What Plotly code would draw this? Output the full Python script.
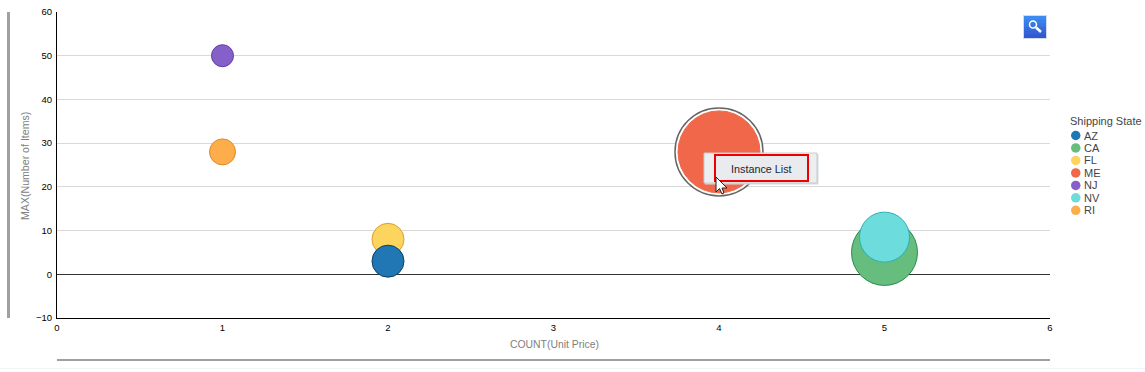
import plotly.graph_objects as go

states = ["RI", "NJ", "ME", "CA", "FL", "AZ", "NV"]
count_unit_price = [1, 1, 4, 5, 2, 2, 5]
max_items = [28, 50, 28, 5, 8, 3, 8.5]
bubble_size = [26, 22, 86, 66, 32, 32, 50]
fill_colors = ["#fdae4b", "#8660c9", "#f0674a", "#66bd7e", "#fcd45e", "#2077b3", "#6cdcdc"]
line_colors = ["#d98a2a", "#5e3ea1", "#ffffff", "#2a8c4e", "#d9a030", "#0d3f66", "#2ab0b0"]
legend_states = ["AZ", "CA", "FL", "ME", "NJ", "NV", "RI"]
legend_colors = ["#2077b3", "#66bd7e", "#fcd45e", "#f0674a", "#8660c9", "#6cdcdc", "#fdae4b"]
x_ticks = [0, 1, 2, 3, 4, 5, 6]
y_ticks = [-10, 0, 10, 20, 30, 40, 50, 60]

W, H = 1145, 372
L, R, T, B = 57, 95, 12, 54
PW, PH = W - L - R, H - T - B
def px(x): return (x - L) / PW
def py(y): return 1 - (y - T) / PH

fig = go.Figure()
# halo of the highlighted bubble
fig.add_trace(go.Scatter(x=[count_unit_price[2]], y=[max_items[2]], mode="markers", showlegend=False, hoverinfo="skip",
    marker=dict(size=[bubble_size[2] + 2], color="#ffffff", opacity=1, line=dict(color="#666666", width=1.5))))
for s, x, y, z, f, l in zip(states, count_unit_price, max_items, bubble_size, fill_colors, line_colors):
    fig.add_trace(go.Scatter(x=[x], y=[y], mode="markers", name=s, showlegend=False,
        marker=dict(size=[z - (4 if s == "ME" else 0)], color=f, opacity=1,
                    line=dict(color=f if s == "ME" else l, width=1))))

shapes = []
def rect(x0, y0, x1, y1, fill, line=None, lw=0):
    shapes.append(dict(type="rect", xref="paper", yref="paper", x0=px(x0), x1=px(x1), y0=py(y0), y1=py(y1),
                       fillcolor=fill, line=dict(color=line or fill, width=lw), layer="above"))
# frame bars
rect(7, 12, 10, 318, "#a0a0a0")
rect(57, 359, 1050, 361, "#a0a0a0")
rect(0, 368, 1145, 369, "#eef3f7")
# zoom button
rect(1023, 15, 1047, 39, "#d5dbe6")
steps = ["#3d8af0", "#3a80ea", "#3876e4", "#356cdd", "#3363d7", "#3159d0"]
for i, c in enumerate(steps):
    rect(1024, 16 + i * 22 / 6, 1046, 38, c)
shapes.append(dict(type="circle", xref="paper", yref="paper", x0=px(1029.5), x1=px(1036.5), y0=py(28), y1=py(21),
                   line=dict(color="#ffffff", width=1.5), layer="above"))
shapes.append(dict(type="line", xref="paper", yref="paper", x0=px(1036), x1=px(1041), y0=py(27.5), y1=py(32),
                   line=dict(color="#ffffff", width=2.5), layer="above"))
# context menu
rect(705, 154, 818.5, 184.5, "#d8dadc")
rect(704, 153, 817, 183, "#eceef0", "#c8ccd0", 1)
rect(715, 155, 808, 181, "#e9ebee", "#ee0000", 2)
# cursor
xs = [716, 716, 719.5, 722, 724, 722, 727]
ys = [177, 192, 188.5, 194, 193, 188, 188]
path = "M " + " L ".join(f"{px(a)} {py(b)}" for a, b in zip(xs, ys)) + " Z"
shapes.append(dict(type="path", xref="paper", yref="paper", path=path, fillcolor="#ffffff",
                   line=dict(color="#222222", width=1), layer="above"))
# legend
annotations = []
for i, (s, c) in enumerate(zip(legend_states, legend_colors)):
    yc = 135.5 + i * 12.47
    shapes.append(dict(type="circle", xref="paper", yref="paper", x0=px(1071), x1=px(1080.5), y0=py(yc + 4.75), y1=py(yc - 4.75),
                       fillcolor=c, line=dict(width=0), layer="above"))
    annotations.append(dict(xref="paper", yref="paper", x=px(1082), y=py(yc), text=s, showarrow=False, xanchor="left",
                            yanchor="middle", font=dict(size=11, color="#444444")))
annotations.append(dict(xref="paper", yref="paper", x=px(1068), y=py(120.5), text="Shipping State", showarrow=False,
                        xanchor="left", yanchor="middle", font=dict(size=11, color="#444444")))
annotations.append(dict(xref="paper", yref="paper", x=px(761.5), y=py(169), text="Instance List", showarrow=False,
                        xanchor="center", yanchor="middle", font=dict(size=10.8, color="#222233")))
annotations.append(dict(xref="paper", yref="paper", x=px(554), y=py(344.5), text="COUNT(Unit Price)", showarrow=False,
                        xanchor="center", yanchor="middle", font=dict(size=10.4, color="#808080")))
annotations.append(dict(xref="paper", yref="paper", x=px(25), y=py(166), text="MAX(Number of Items)", showarrow=False,
                        textangle=-90, xanchor="center", yanchor="middle", font=dict(size=10.6, color="#808080")))

fig.update_layout(
    width=W, height=H, margin=dict(l=L, r=R, t=T, b=B), paper_bgcolor="#ffffff", plot_bgcolor="#ffffff",
    font=dict(family="Liberation Sans, Arial, sans-serif"), showlegend=False,
    shapes=shapes, annotations=annotations,
    xaxis=dict(range=[0, 6], tickvals=x_ticks, showgrid=False, zeroline=False, showline=True, linecolor="#000000",
               linewidth=1, ticks="", tickfont=dict(size=9.5, color="#000000"), automargin=False, ticklabelstandoff=1),
    yaxis=dict(range=[-10, 60], tickvals=y_ticks, showgrid=True, gridcolor="#d9d9d9", gridwidth=1,
               zeroline=True, zerolinecolor="#333333", zerolinewidth=1, showline=True, linecolor="#000000",
               linewidth=1, ticks="", tickfont=dict(size=9.5, color="#000000"), automargin=False, ticklabelstandoff=2),
)
fig.write_html("out.html", config=dict(displayModeBar=False), post_script="document.body.style.margin='0';")
